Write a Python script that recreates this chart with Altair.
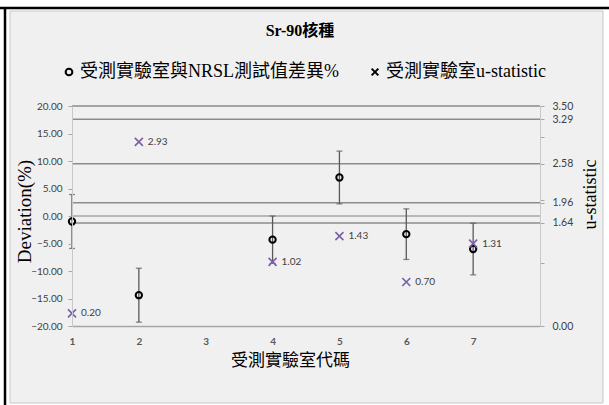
import altair as alt
import pandas as pd

# Participating laboratory codes and their Sr-90 results
labs = [1, 2, 4, 5, 6, 7]
deviation = [-1.0, -14.4, -4.3, 7.0, -3.3, -6.0]       # % difference vs NRSL
dev_unc = [4.9, 4.9, 4.3, 4.8, 4.6, 4.7]                # error bar half-width (%)
u_stat = [0.20, 2.93, 1.02, 1.43, 0.70, 1.31]           # u-statistic

# Horizontal reference levels on the u-statistic axis, and the 0 % line
u_lines = [3.50, 3.29, 2.58, 1.96, 1.64]
zero_line = [0.0]

# Axis tick values
x_ticks = [1, 2, 3, 4, 5, 6, 7]
dev_ticks = [-20, -15, -10, -5, 0, 5, 10, 15, 20]
u_ticks = [0, 1, 1.64, 1.96, 2, 2.58, 3, 3.29, 3.5]

series_dev = "受測實驗室與NRSL測試值差異%"
series_u = "受測實驗室u-statistic"

SERIF = "Liberation Serif, Noto Sans CJK TC"
NUM = "Lato"

dev_df = pd.DataFrame({
    "lab": labs,
    "dev": deviation,
    "lo": [d - e for d, e in zip(deviation, dev_unc)],
    "hi": [d + e for d, e in zip(deviation, dev_unc)],
    "series": [series_dev] * len(labs),
})
u_df = pd.DataFrame({"lab": labs, "u": u_stat, "series": [series_u] * len(labs)})
ref_df = pd.DataFrame({"u": u_lines})
zero_df = pd.DataFrame({"v": zero_line})
one = pd.DataFrame({"k": [0]})

xs = alt.Scale(domain=[1, 8], nice=False, zero=False)
ys_dev = alt.Scale(domain=[-20, 20], nice=False, zero=False)
ys_u = alt.Scale(domain=[0, 3.5], nice=False, zero=False)
shape_scale = alt.Scale(domain=[series_dev, series_u],
                        range=["circle", "M-1,-1L1,1M1,-1L-1,1"])

x_axis = alt.Axis(
    values=x_ticks, format="d", labelFont=NUM, labelFontSize=10, labelFontWeight="bold",
    labelColor="#595959", ticks=False, labelPadding=10, labelFlush=False,
    domainColor="#a6a6a6", domainWidth=1.5, grid=False, zindex=1,
    title="受測實驗室代碼", titleFont=SERIF, titleFontSize=17, titleFontWeight="normal",
    titleColor="black", titleX=218, titleY=34, titleAlign="center", titleBaseline="middle",
)
left_axis = alt.Axis(
    orient="left", values=dev_ticks, format=".2f", labelFont=NUM, labelFontSize=10,
    labelColor="#404040", tickSize=4, tickColor="#a6a6a6", labelPadding=6,
    labelFlush=False, domainColor="#c8c8c8", grid=False, zindex=1,
    title="Deviation(%)", titleFont=SERIF, titleFontSize=19, titleFontWeight="normal",
    titleColor="black", titleAngle=270, titleX=-48, titleY=105,
    titleAlign="center", titleBaseline="middle",
)
right_axis = alt.Axis(
    orient="right", values=u_ticks,
    labelExpr="(datum.value == 1 || datum.value == 2 || datum.value == 3) ? '' : format(datum.value, '.2f')",
    labelFont=NUM, labelFontSize=10.5, labelColor="#404040", tickSize=4, tickColor="#a6a6a6",
    labelPadding=8, labelFlush=False, labelOverlap=False, domainColor="#c8c8c8", grid=False,
    zindex=1,
    title="u-statistic", titleFont=SERIF, titleFontSize=18, titleFontWeight="normal",
    titleColor="black", titleAngle=270, titleX=50, titleY=88,
    titleAlign="center", titleBaseline="middle",
)
legend = alt.Legend(
    orient="none", legendX=-12, legendY=-43, direction="horizontal", title=None,
    labelFont=SERIF, labelFontSize=18, labelColor="black", labelLimit=400,
    symbolStrokeColor="black", symbolFillColor="transparent", symbolStrokeWidth=2,
    symbolSize=45, columnPadding=26, labelOffset=2,
)

# Panel background, its border and the heavy frame lines around it
panel = alt.Chart(one).mark_rect(fill="#f0f0f0", stroke="#c8c8c8", strokeWidth=1).encode(
    x=alt.value(-62), x2=alt.value(531), y=alt.value(-95), y2=alt.value(297))
frame_top = alt.Chart(one).mark_rule(color="black", strokeWidth=2.5).encode(
    x=alt.value(-72), x2=alt.value(537), y=alt.value(-98))
frame_left = alt.Chart(one).mark_rule(color="black", strokeWidth=2.5).encode(
    x=alt.value(-67), y=alt.value(-98), y2=alt.value(299))

zero = alt.Chart(zero_df).mark_rule(color="#a6a6a6", strokeWidth=1.5).encode(
    y=alt.Y("v:Q", scale=ys_dev, axis=None))
refs = alt.Chart(ref_df).mark_rule(color="#8c8c8c", strokeWidth=1.5).encode(
    y=alt.Y("u:Q", scale=ys_u, axis=right_axis))

X = alt.X("lab:Q", scale=xs, axis=x_axis)
bars = alt.Chart(dev_df).mark_rule(color="#595959", strokeWidth=1.3).encode(
    x=X, y=alt.Y("lo:Q", scale=ys_dev, axis=left_axis), y2="hi:Q")
cap_hi = alt.Chart(dev_df).mark_tick(orient="horizontal", size=6, thickness=1.3, color="#595959").encode(
    x=X, y=alt.Y("hi:Q", scale=ys_dev, axis=None))
cap_lo = alt.Chart(dev_df).mark_tick(orient="horizontal", size=6, thickness=1.3, color="#595959").encode(
    x=X, y=alt.Y("lo:Q", scale=ys_dev, axis=None))
circles = alt.Chart(dev_df).mark_point(filled=False, color="black", strokeWidth=2, size=40, opacity=1).encode(
    x=X, y=alt.Y("dev:Q", scale=ys_dev, axis=None),
    shape=alt.Shape("series:N", scale=shape_scale, legend=legend))
crosses = alt.Chart(u_df).mark_point(filled=False, color="#7b5ea7", strokeWidth=1.6, size=64, opacity=1).encode(
    x=X, y=alt.Y("u:Q", scale=ys_u, axis=None),
    shape=alt.Shape("series:N", scale=shape_scale, legend=legend))
u_labels = alt.Chart(u_df).mark_text(align="left", baseline="middle", dx=9, font=NUM,
                                     fontSize=10, color="#404040").encode(
    x=X, y=alt.Y("u:Q", scale=ys_u, axis=None), text=alt.Text("u:Q", format=".2f"))

chart = alt.layer(
    panel, frame_top, frame_left, zero, refs, bars, cap_hi, cap_lo, circles, crosses, u_labels
).resolve_scale(y="independent").properties(
    width=468, height=220,
    autosize=alt.AutoSizeParams(type="none"),
    padding={"left": 72, "top": 106, "right": 69, "bottom": 79},
    background="white",
    title=alt.Title("Sr-90核種", font=SERIF, fontSize=16, fontWeight="bold", color="black",
                    anchor="middle", dx=-6, offset=-32),
).configure_view(stroke="#c8c8c8", strokeWidth=1)

chart.save("out.html", embed_options={"renderer": "svg", "actions": False})
